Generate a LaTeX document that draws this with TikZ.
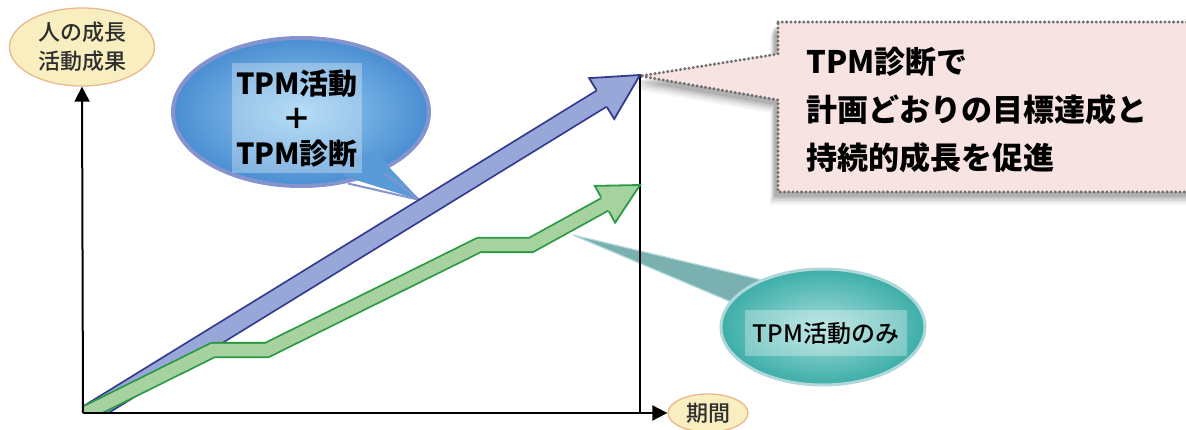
\documentclass[tikz,border=0pt]{standalone}
\usepackage{fontspec}
\newfontfamily\jp{Noto Sans CJK JP Medium}
\newfontfamily\jpb{Noto Sans CJK JP Black}
\usetikzlibrary{calc,shapes.geometric,arrows.meta}
\definecolor{bluefill}{HTML}{97A8D8}
\definecolor{blueline}{HTML}{343A8E}
\definecolor{greenfill}{HTML}{A6D2A0}
\definecolor{greenline}{HTML}{2A9A45}
\definecolor{labfill}{HTML}{F8EEC0}
\definecolor{labline}{HTML}{E9B98A}
\definecolor{pinkfill}{HTML}{F7E3E1}
\definecolor{dotgray}{HTML}{6E6E6E}
\definecolor{bubin}{HTML}{96CEF2}
\definecolor{bubout}{HTML}{4A8ED2}
\definecolor{bubrim}{HTML}{8494CF}
\definecolor{tealin}{HTML}{A2DCDA}
\definecolor{tealout}{HTML}{3DAEA8}
\definecolor{tealrim}{HTML}{B0D8DC}
\definecolor{tealtail}{HTML}{7AB0B0}
\definecolor{labtext}{HTML}{2E2E2E}
\tikzset{
  axislab/.style={ellipse,draw=labline,line width=1.3pt,fill=labfill,text=labtext,
    font=\jp\fontsize{22}{29}\selectfont,align=center,inner sep=0pt},
  axisline/.style={line width=2pt,-{Triangle[length=15pt,width=15pt]}},
  bandblue/.style={draw=blueline,line width=1.8pt,double=bluefill,double distance=17pt,line join=miter},
  bandgreen/.style={draw=greenline,line width=1.8pt,double=greenfill,double distance=12.5pt,line join=miter},
  bubtext/.style={fill=white,fill opacity=0.3,text opacity=1,align=center},
  calltext/.style={anchor=west,font=\jpb\fontsize{31}{31}\selectfont,inner sep=0pt}
}
\begin{document}
\begin{tikzpicture}[x=1pt,y=-1pt]
\path[use as bounding box] (0,0) rectangle (1186,430);

% ---------- blue speech bubble ----------
\coordinate (btail) at (420,200);
\shade[inner color=bubin,outer color=bubout] (301,112) ellipse [x radius=128,y radius=74];
\draw[bubrim,line width=4pt] (301,112) ellipse [x radius=128,y radius=74];
\fill[bubout!80!bubin] (343,176) -- (btail) -- (388,166) -- (375,150) -- (345,160) -- cycle;
\draw[bubrim,line width=2pt,line join=round] (348,183.5) -- (btail) -- (384,173);
\node[bubtext,minimum width=130pt,minimum height=110pt,font=\jpb\fontsize{29}{35}\selectfont] (bt) at (297,118) {TPM活動\\＋\\TPM診断};

% ---------- teal speech bubble ----------
\coordinate (ttail) at (573,235);
\fill[tealtail,draw=tealrim,line width=1.2pt] (736,304) -- (ttail) -- (766,281) -- cycle;
\shade[inner color=tealin,outer color=tealout] (823,327) ellipse [x radius=102,y radius=58];
\draw[tealrim,line width=3pt] (823,327) ellipse [x radius=102,y radius=58];
\node[bubtext,minimum width=162pt,minimum height=45pt,font=\jp\fontsize{24}{24}\selectfont] (tt) at (826,333) {TPM活動のみ};

% ---------- pink callout ----------
\coordinate (ctip) at (640,76);
\foreach \dx/\dy/\op in {-8/13/0.04,-7/11/0.05,-6/9/0.07,-5/7/0.09,-4/5/0.1} {
  \fill[black,opacity=\op,shift={(\dx,\dy)}] (778,22) -- (1195,22) -- (1195,192) -- (778,192) -- (778,100) -- (640,76) -- (778,54) -- cycle;
}
\draw[fill=pinkfill,draw=dotgray,line width=3.3pt,line cap=round,dash pattern=on 0pt off 4.3pt]
  (778,22) -- (1195,22) -- (1195,192) -- (778,192) -- (778,100) -- (ctip) -- (778,54) -- cycle;
\node[calltext] (c1) at (806,62) {TPM診断で};
\node[calltext] (c2) at (806,110) {計画どおりの目標達成と};
\node[calltext] (c3) at (806,158) {持続的成長を促進};

% ---------- axes ----------
\coordinate (O) at (83,413);
\node[axislab,minimum width=145pt,minimum height=78pt] (ylab) at (82,47) {人の成長\\活動成果};
\node[axislab,minimum width=80pt,minimum height=38pt,font=\jp\fontsize{22}{22}\selectfont] (xlab) at (708,413) {期間};
\coordinate (vtop) at (640,75);
\coordinate (vbot) at (640,413);
\draw[line width=1.2pt] (vtop) -- (vbot);

% ---------- blue arrow ----------
\coordinate (bT) at (640,75);
\coordinate (bA0) at (92,412);
\coordinate (bA) at ($(bT)!1.05!(bA0)$);
\coordinate (bH) at ($(bT)!45pt!(bA0)$);
\coordinate (bH2) at ($(bT)!42pt!(bA0)$);
\coordinate (bw1) at ($(bH)!24pt!90:(bT)$);
\coordinate (bw2) at ($(bH)!24pt!-90:(bT)$);
\coordinate (bb1) at ($(bH)!10pt!90:(bT)$);
\coordinate (bb2) at ($(bH)!10pt!-90:(bT)$);
\begin{scope}
\clip (83,0) rectangle (1186,413);
\draw[bandblue] (bA) -- (bH2);
\end{scope}
\fill[bluefill] (bb1) -- (bw1) -- (bT) -- (bw2) -- (bb2) -- cycle;
\draw[blueline,line width=1.8pt,line join=miter] (bb1) -- (bw1) -- (bT) -- (bw2) -- (bb2);

% ---------- green arrow ----------
\coordinate (g0) at (70,421);
\coordinate (g1) at (213,350);
\coordinate (g2) at (267,350);
\coordinate (g3) at (479,245);
\coordinate (g4) at (531,245);
\coordinate (gT) at (640,185);
\coordinate (gH) at ($(gT)!40pt!(g4)$);
\coordinate (gH2) at ($(gT)!37pt!(g4)$);
\coordinate (gw1) at ($(gH)!21pt!90:(gT)$);
\coordinate (gw2) at ($(gH)!21pt!-90:(gT)$);
\coordinate (gb1) at ($(gH)!8pt!90:(gT)$);
\coordinate (gb2) at ($(gH)!8pt!-90:(gT)$);
\begin{scope}
\clip (83,0) rectangle (1186,413);
\draw[bandgreen] (g0) -- (g1) -- (g2) -- (g3) -- (g4) -- (gH2);
\end{scope}
\fill[greenfill] (gb1) -- (gw1) -- (gT) -- (gw2) -- (gb2) -- cycle;
\draw[greenline,line width=1.8pt,line join=miter] (gb1) -- (gw1) -- (gT) -- (gw2) -- (gb2);

% axes on top
\draw[axisline] (O) -- (ylab.south);
\draw[axisline] (O) -- (xlab.west);
\end{tikzpicture}
\end{document}
